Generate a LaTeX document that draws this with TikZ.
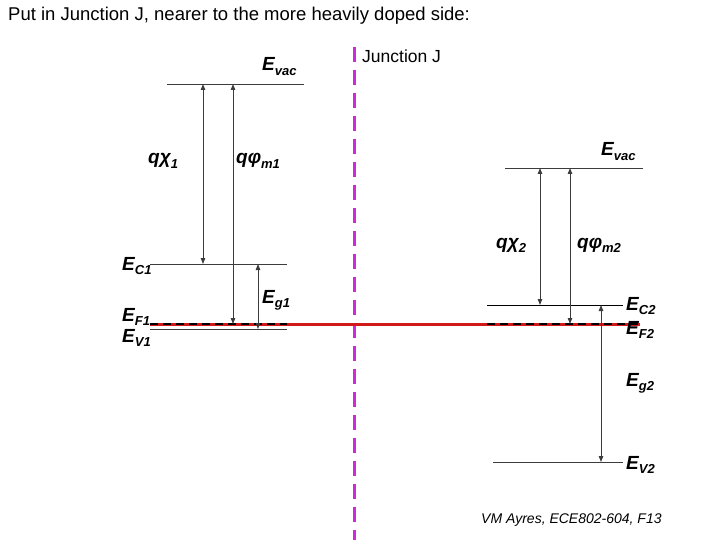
\documentclass[tikz,border=0pt]{standalone}
\usepackage{fontspec}
\setmainfont{Liberation Sans}
\usetikzlibrary{arrows.meta, positioning}
\definecolor{junctionmag}{RGB}{210, 40, 220}
\definecolor{fermired}{RGB}{210, 25, 25}
\definecolor{levelgray}{RGB}{60, 60, 60}
\newcommand{\En}[2]{{\bfseries\itshape #1\raisebox{-0.45ex}{\fontsize{13}{13}\selectfont #2}}}

\begin{document}
\begin{tikzpicture}[
    x=1pt, y=-1pt,
    level/.style={line width=0.9pt, levelgray},
    fermi/.style={line width=1.6pt, black, dash pattern=on 8pt off 5pt},
    gap/.style={<->, >={Triangle[length=6pt,width=4.5pt]}, line width=1pt, levelgray},
    lbl/.style={font=\fontsize{19}{19}\selectfont, inner sep=0pt, anchor=base west},
    note/.style={font=\fontsize{18.5}{18.5}\selectfont, inner sep=0pt, anchor=base west}
]
\useasboundingbox (0,0) rectangle (720,540);

% Title and junction
\node[note] (title) at (8,21) {Put in Junction J, nearer to the more heavily doped side:};
\coordinate (jtop) at (354,47);
\coordinate (jbot) at (354,540);
\draw[junctionmag, line width=3pt, dash pattern=on 15pt off 8pt] (jtop) -- (jbot);
\node[note, font=\fontsize{17.5}{17.5}\selectfont] (jlabel) at (362,63) {Junction J};

% Common Fermi level
\coordinate (fl) at (150,324);
\coordinate (fr) at (640,324);
\draw[fermired, line width=3pt] (fl) -- (fr);

% Left side (heavily doped)
\coordinate (vac1l) at (167,84);  \coordinate (vac1r) at (304,84);
\coordinate (c1l) at (150,264);   \coordinate (c1r) at (287,264);
\coordinate (v1l) at (150,329);   \coordinate (v1r) at (287,329);
\coordinate (f1r) at (287,324);
\draw[level] (vac1l) -- (vac1r);
\draw[level] (c1l) -- (c1r);
\draw[level] (v1l) -- (v1r);
\draw[fermi] (fl) -- (f1r);

\draw[gap] (203,84) -- (203,264);
\draw[gap] (233,84) -- (233,324);
\draw[gap] (258,264) -- (258,329);

\node[lbl] (evac1) at (262,71) {\En{E}{vac}};
\node[lbl] (chi1) at (148,164) {\En{qχ}{1}};
\node[lbl] (phi1) at (236,164) {\En{qφ}{m1}};
\node[lbl] (ec1) at (122,270) {\En{E}{C1}};
\node[lbl] (eg1) at (262,303) {\En{E}{g1}};
\node[lbl] (ef1) at (122,321) {\En{E}{F1}};
\node[lbl] (ev1) at (122,342) {\En{E}{V1}};

% Right side (lightly doped)
\coordinate (vac2l) at (505,168); \coordinate (vac2r) at (643,168);
\coordinate (c2l) at (487,305);   \coordinate (c2r) at (623,305);
\coordinate (v2l) at (493,462);   \coordinate (v2r) at (623,462);
\coordinate (f2l) at (487,324);
\draw[level] (vac2l) -- (vac2r);
\draw[level, black] (c2l) -- (c2r);
\draw[level] (v2l) -- (v2r);
\draw[fermi] (f2l) -- (fr);

\draw[gap] (540,168) -- (540,305);
\draw[gap] (570,168) -- (570,324);
\draw[gap] (601,305) -- (601,462);

\node[lbl] (evac2) at (601,156) {\En{E}{vac}};
\node[lbl] (chi2) at (496,248) {\En{qχ}{2}};
\node[lbl] (phi2) at (577,248) {\En{qφ}{m2}};
\node[lbl] (ec2) at (626,310) {\En{E}{C2}};
\node[lbl] (ef2) at (626,334) {\En{E}{F2}};
\node[lbl] (eg2) at (626,386) {\En{E}{g2}};
\node[lbl] (ev2) at (626,469) {\En{E}{V2}};

% Credit
\node[font=\itshape\fontsize{14}{14}\selectfont, inner sep=0pt, anchor=base west] (credit) at (481,523) {VM Ayres, ECE802-604, F13};
\end{tikzpicture}
\end{document}
